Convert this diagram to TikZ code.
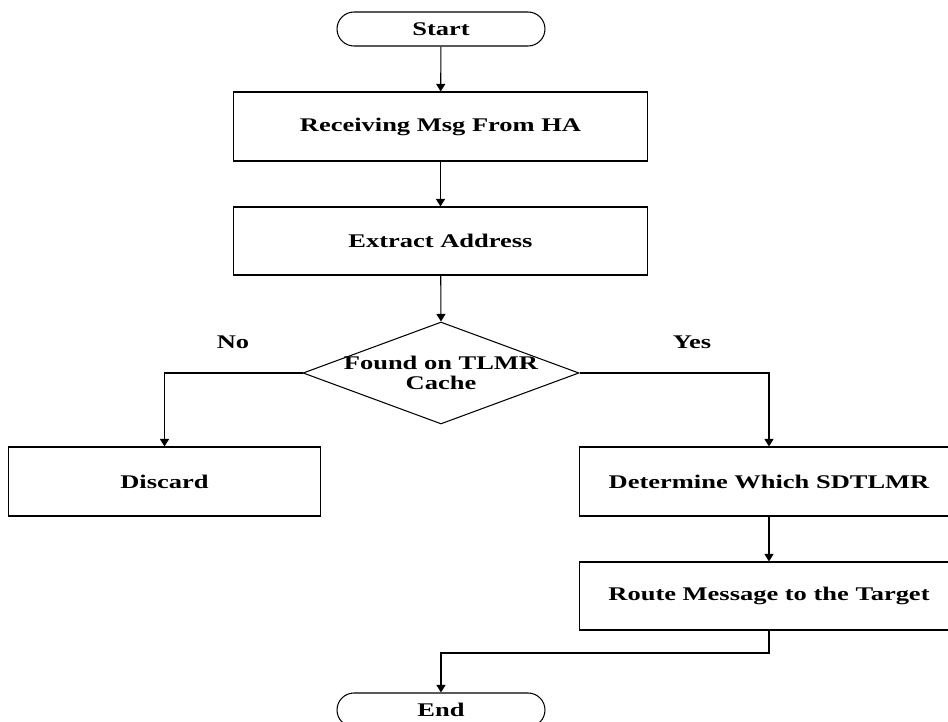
\documentclass[tikz,border=0pt]{standalone}
\usepackage{fontspec}
\setmainfont{Liberation Serif}
\newfontfamily\widefont[FakeStretch=1.37]{Liberation Serif}
\usetikzlibrary{shapes.geometric,arrows.meta,positioning}
\tikzset{
  txt/.style={font=\widefont\fontsize{11}{11.5}\selectfont\bfseries},
  box/.style={draw, line width=0.6pt, rectangle, inner sep=0pt, txt},
  term/.style={draw, line width=0.6pt, rectangle, rounded corners=0.34cm, minimum width=4.16cm, minimum height=0.68cm, inner sep=0pt, txt},
  dec/.style={draw, line width=0.6pt, diamond, minimum width=5.52cm, minimum height=2.04cm, inner sep=0pt},
  arr/.style={line width=0.6pt, -{Triangle[width=0.18cm,length=0.15cm]}},
  ln/.style={line width=0.6pt}
}
\begin{document}
\begin{tikzpicture}[x=0.02cm,y=-0.02cm]
\useasboundingbox (0,0) rectangle (948,722);
\clip (0,0) rectangle (948,722);
\node[term] (start) at (441,29) {Start};
\node[box, minimum width=8.3cm, minimum height=1.38cm] (b1) at (440.5,126.5) {Receiving Msg From HA};
\node[box, minimum width=8.3cm, minimum height=1.36cm] (b2) at (440.5,241) {Extract Address};
\node[dec] (d) at (441,373) {};
\node[txt, align=center] (dt) at (441,373) {Found on TLMR\\Cache};
\node[box, minimum width=6.26cm, minimum height=1.38cm] (disc) at (164.5,481.5) {Discard};
\node[box, minimum width=7.6cm, minimum height=1.38cm] (det) at (769,481.5) {Determine Which SDTLMR};
\node[box, minimum width=7.6cm, minimum height=1.36cm] (route) at (769,596) {Route Message to the Target};
\node[term] (end) at (441,710) {End};
\node[txt] (no) at (233,342) {No};
\node[txt] (yes) at (692,342) {Yes};
\coordinate (j) at (441,653);
\draw[arr] (start) -- (b1);
\draw[arr] (b1) -- (b2);
\draw[arr] (b2) -- (d.north);
\draw[arr] (d.west) -| (disc.north);
\draw[arr] (d.east) -| (det.north);
\draw[arr] (det) -- (route);
\draw[arr] (route.south) |- (j) -- (end.north);
\end{tikzpicture}
\end{document}
